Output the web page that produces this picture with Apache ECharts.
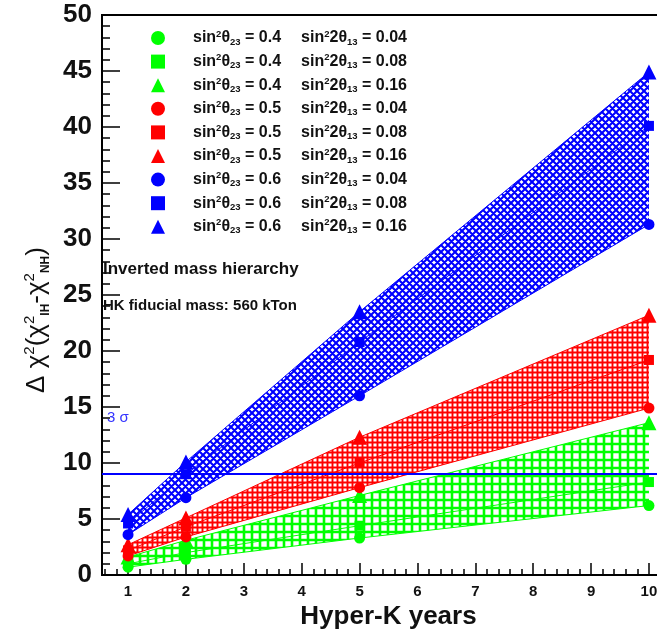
<!DOCTYPE html>
<html>
<head>
<meta charset="utf-8">
<script src="https://cdn.jsdelivr.net/npm/echarts@6/dist/echarts.min.js"></script>
<style>
html,body{margin:0;padding:0;background:#fff;}
#c{width:657px;height:635px;}
</style>
</head>
<body>
<div id="c"></div>
<script>
// ---- data ----
var years = [1, 2, 5, 10];
var theta23Values = ['0.4', '0.5', '0.6'];
var theta13Values = ['0.04', '0.08', '0.16'];
// sin^2 theta23 = 0.4 (green)
var g04 = [0.7, 1.4, 3.3, 6.2];
var g08 = [1.0, 2.0, 4.4, 8.3];
var g16 = [1.6, 3.1, 7.1, 13.6];
// sin^2 theta23 = 0.5 (red)
var r04 = [1.7, 3.4, 7.8, 14.9];
var r08 = [2.2, 4.3, 10.0, 19.2];
var r16 = [2.7, 5.1, 12.3, 23.2];
// sin^2 theta23 = 0.6 (blue)
var b04 = [3.6, 6.9, 16.0, 31.3];
var b08 = [4.6, 9.0, 20.8, 40.1];
var b16 = [5.4, 10.1, 23.5, 44.9];
var sigma3 = 9;
var yTicks = [0, 5, 10, 15, 20, 25, 30, 35, 40, 45, 50];
var xTicks = [1, 2, 3, 4, 5, 6, 7, 8, 9, 10];

var colors = ['#00ff00', '#ff0000', '#0000ff'];
var symbols = ['circle', 'rect', 'triangle'];
var groups = [[g04, g08, g16], [r04, r08, r16], [b04, b08, b16]];

function hatch(color, step, lw, mode) {
  var c = document.createElement('canvas');
  c.width = step; c.height = step;
  var ctx = c.getContext('2d');
  ctx.strokeStyle = color; ctx.lineWidth = lw;
  ctx.beginPath();
  if (mode === 'diag') {
    for (var k = -1; k <= 1; k++) {
      ctx.moveTo(k * step, 0); ctx.lineTo(k * step + step, step);
      ctx.moveTo(k * step + step, 0); ctx.lineTo(k * step, step);
    }
  } else {
    ctx.moveTo(step / 2, 0); ctx.lineTo(step / 2, step);
    ctx.moveTo(0, step / 2); ctx.lineTo(step, step / 2);
  }
  ctx.stroke();
  return c;
}
var patterns = [
  {image: hatch('#00ff00', 8, 2.6, 'grid'), repeat: 'repeat'},
  {image: hatch('#ff0000', 5, 1.9, 'grid'), repeat: 'repeat'},
  {image: hatch('#0000ff', 7, 2.1, 'diag'), repeat: 'repeat'}
];

var series = [];
var legendData = [];
groups.forEach(function (g, gi) {
  series.push({
    type: 'custom',
    name: 'band' + gi,
    silent: true,
    clip: true,
    z: 1,
    data: [[years[0], g[0][0]]],
    renderItem: function (params, api) {
      var low = g[0], high = g[2];
      var pts = years.map(function (x, i) { return api.coord([x, low[i]]); });
      var top = years.map(function (x, i) { return api.coord([x, high[i]]); }).reverse();
      return {type: 'polygon', shape: {points: pts.concat(top)}, style: {fill: patterns[gi], stroke: null}};
    }
  });
});
groups.forEach(function (g, gi) {
  g.forEach(function (arr, si) {
    var name = 's23=' + theta23Values[gi] + ' s13=' + theta13Values[si];
    legendData.push({name: name, icon: symbols[si]});
    series.push({
      type: 'line',
      name: name,
      data: years.map(function (x, i) { return [x, arr[i]]; }),
      symbol: symbols[si],
      symbolSize: si === 2 ? 15 : (si === 1 ? 10 : 11),
      z: 3,
      itemStyle: {color: colors[gi]},
      lineStyle: {color: colors[gi], width: 1},
      markLine: (gi === 2 && si === 2) ? {
        silent: true, symbol: 'none', label: {show: false},
        lineStyle: {color: '#0000ff', width: 2, type: 'solid'},
        data: [{yAxis: sigma3}]
      } : undefined
    });
  });
});

var chart = echarts.init(document.getElementById('c'), null, {renderer: 'canvas'});
chart.setOption({
  animation: false,
  backgroundColor: '#ffffff',
  textStyle: {fontFamily: 'Liberation Sans, Arial, sans-serif'},
  grid: {left: 102, right: -18, top: 15, bottom: 60, show: true, borderColor: '#000', borderWidth: 2, containLabel: false, outerBoundsMode: 'none'},
  legend: {
    orient: 'vertical', left: 146, top: 24,
    itemWidth: 14, itemHeight: 14, itemGap: 5.6,
    data: legendData,
    formatter: function (name) {
      var m = name.match(/s23=([\d.]+) s13=([\d.]+)/);
      return '{sp|}{t|sin}{sup|2}{t|θ}{sub|23}{t| = ' + m[1] + '}{sp2|}{t|sin}{sup|2}{t|2θ}{sub|13}{t| = ' + m[2] + '}';
    },
    textStyle: {
      rich: {
        sp: {width: 23},
        sp2: {width: 20},
        t: {fontSize: 16, fontWeight: 'bold', color: '#111', lineHeight: 18, verticalAlign: 'middle', fontFamily: 'Liberation Sans'},
        sup: {fontSize: 9.5, fontWeight: 'bold', color: '#111', lineHeight: 18, verticalAlign: 'top', fontFamily: 'Liberation Sans'},
        sub: {fontSize: 9.5, fontWeight: 'bold', color: '#111', lineHeight: 18, verticalAlign: 'bottom', fontFamily: 'Liberation Sans'}
      }
    }
  },
  xAxis: {
    type: 'value', min: 0.55, max: 10.45, splitNumber: 10,
    name: 'Hyper-K years', nameLocation: 'middle', nameGap: 27,
    nameTextStyle: {fontSize: 26, fontWeight: 'bold', color: '#111', fontFamily: 'Liberation Sans'},
    axisLine: {show: true, lineStyle: {color: '#000', width: 2}},
    axisTick: {show: true, inside: true, length: 12, lineStyle: {color: '#000', width: 1.5}},
    minorTick: {show: true, splitNumber: 5, length: 6, lineStyle: {color: '#000', width: 1.5}},
    splitLine: {show: false},
    axisLabel: {
      fontSize: 15, fontWeight: 'bold', color: '#111', margin: 9,
      formatter: function (v) { return xTicks.indexOf(v) >= 0 ? String(v) : ''; }
    }
  },
  yAxis: {
    type: 'value', min: 0, max: 50, interval: 5,
    name: '{n|Δ χ}{sup|2}{n|(χ}{sup|2}{sub|IH}{n|-χ}{sup|2}{sub|NH}{n|)}',
    nameLocation: 'middle', nameRotate: 90, nameGap: 50,
    nameTextStyle: {
      padding: [0, 50, 0, 0],
      rich: {
        n: {fontSize: 26, color: '#111', lineHeight: 30, verticalAlign: 'middle', fontFamily: 'Liberation Sans'},
        sup: {fontSize: 15, color: '#111', lineHeight: 30, verticalAlign: 'top', fontFamily: 'Liberation Sans'},
        sub: {fontSize: 12, fontWeight: 'bold', color: '#111', lineHeight: 30, verticalAlign: 'bottom', fontFamily: 'Liberation Sans'}
      }
    },
    axisLine: {show: true, lineStyle: {color: '#000', width: 2}},
    axisTick: {show: true, inside: true, length: 18, lineStyle: {color: '#000', width: 1.5}},
    minorTick: {show: true, splitNumber: 5, length: 8, lineStyle: {color: '#000', width: 1.5}},
    splitLine: {show: false},
    axisLabel: {
      fontSize: 26, fontWeight: 'bold', color: '#111', margin: 10,
      formatter: function (v) { return yTicks.indexOf(v) >= 0 ? String(v) : ''; }
    }
  },
  graphic: [
    {type: 'text', left: 103, top: 261, z: 10, style: {text: 'Inverted mass hierarchy', font: 'bold 17px "Liberation Sans"', fill: '#111'}},
    {type: 'text', left: 103, top: 298, z: 10, style: {text: 'HK fiducial mass: 560 kTon', font: 'bold 15px "Liberation Sans"', fill: '#111'}},
    {type: 'text', left: 107, top: 410, z: 10, style: {text: '3 σ', font: '15px "Liberation Sans"', fill: '#3333ff'}}
  ],
  series: series
});
</script>
</body>
</html>
